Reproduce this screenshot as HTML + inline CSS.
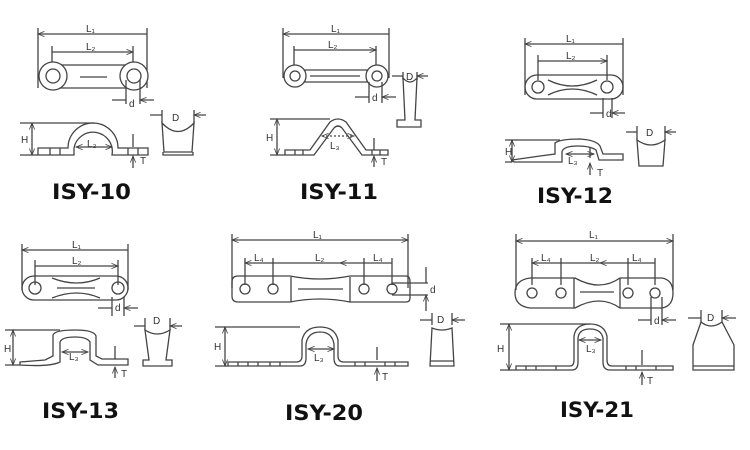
<!DOCTYPE html>
<html><head><meta charset="utf-8"><style>
html,body{margin:0;padding:0;background:#fff;}
svg{display:block}
text{font-family:"Liberation Sans",sans-serif;fill:#333}
.lb{font-family:"DejaVu Sans","Liberation Sans",sans-serif;font-weight:bold;font-size:21px;fill:#111}
.s{font-size:10px}
</style></head><body>
<svg width="750" height="450" viewBox="0 0 750 450" xmlns="http://www.w3.org/2000/svg">
<defs>
<marker id="a" viewBox="0 0 10 10" refX="10" refY="5" markerWidth="7" markerHeight="5" orient="auto-start-reverse"><path d="M0,1 L10,5 L0,9" fill="none" stroke="#444" stroke-width="1.3"/></marker>
</defs>
<g fill="none" stroke="#444" stroke-width="1.3">
<!-- ===== ISY-10 ===== -->
<path d="M38,28V88 M147,28V88 M52,46V70 M133,46V70"/>
<path d="M38,34H147 M52,52H133" marker-start="url(#a)" marker-end="url(#a)"/>
<path d="M53,65H134 M53,88H134 M80,77H107"/>
<circle cx="53" cy="76" r="14" fill="#fff"/><circle cx="53" cy="76" r="7"/>
<circle cx="134" cy="76" r="14" fill="#fff"/><circle cx="134" cy="76" r="7"/>
<path d="M126,80V104 M140,80V104"/>
<path d="M112,100H126 M154,100H140" marker-end="url(#a)"/>
<path d="M20,123H95 M20,155H38"/>
<path d="M32,123V155" marker-start="url(#a)" marker-end="url(#a)"/>
<path d="M38,148H68 A25,25 0 0 1 118,148 H148 V155 H112 A19,19 0 0 0 74,148 V155 H38Z"/>
<path d="M50,148V155 M60,148V155 M128,148V155 M138,148V155"/>
<path d="M76,147H112" marker-start="url(#a)" marker-end="url(#a)"/>
<path d="M133,134V147 M133,168V156" marker-end="url(#a)"/>
<path d="M162,110V123 M194,110V123"/>
<path d="M150,115H162 M206,115H194" marker-end="url(#a)"/>
<path d="M162,123 Q178,140 194,123 L192,152 H164Z M163,152V155H193V152"/>
<!-- ===== ISY-11 ===== -->
<path d="M283,28V78 M389,28V78 M294,46V70 M376,46V70"/>
<path d="M283,34H389 M294,50H376" marker-start="url(#a)" marker-end="url(#a)"/>
<path d="M300,70H372 M300,82H372 M310,76H360"/>
<circle cx="295" cy="76" r="11" fill="#fff"/><circle cx="295" cy="76" r="5"/>
<circle cx="377" cy="76" r="11" fill="#fff"/><circle cx="377" cy="76" r="5"/>
<path d="M369,82V103 M382,82V103"/>
<path d="M355,97H369 M396,97H382" marker-end="url(#a)"/>
<path d="M270,119H330 M270,155H285"/>
<path d="M277,119V155" marker-start="url(#a)" marker-end="url(#a)"/>
<path d="M285,150H310 L330,122 Q338,116 346,122 L366,150 H388 V155 H362 L342,128 Q338,124 334,128 L314,155 H285Z"/>
<path d="M295,150V155 M303,150V155 M372,150V155 M380,150V155"/>
<path d="M322,136H354" marker-start="url(#a)" marker-end="url(#a)" stroke-dasharray="2,2"/>
<path d="M374,138V150 M374,167V156" marker-end="url(#a)"/>
<path d="M403,78 Q410,86 417,78 L415,120 H421 V127 H397 V120 H405Z"/>
<path d="M403,72V80 M417,72V80"/>
<path d="M392,76H403 M428,76H417" marker-end="url(#a)"/>
<!-- ===== ISY-12 ===== -->
<path d="M525,38V95 M623,38V95 M538,55V80 M607,55V80"/>
<path d="M525,44H623 M538,61H607" marker-start="url(#a)" marker-end="url(#a)"/>
<rect x="525" y="75" width="98" height="24" rx="12"/>
<path d="M548,80 Q572,92 597,80 M548,95 Q572,83 597,95"/>
<circle cx="538" cy="87" r="6"/><circle cx="607" cy="87" r="6"/>
<path d="M603,98V118 M612,98V118"/>
<path d="M590,113H603 M625,113H612" marker-end="url(#a)"/>
<path d="M505,140H560 M505,162H512"/>
<path d="M512,140V162" marker-start="url(#a)" marker-end="url(#a)"/>
<path d="M512,160 L540,156 L555,154 V143 Q560,139 580,139 Q596,140 600,146 L603,154 H623 V160 H599 L596,150 Q590,146 578,146 Q563,146 562,152 V162 H514Z"/>
<path d="M566,154H594" marker-start="url(#a)" marker-end="url(#a)"/>
<path d="M590,147V158 M590,175V163" marker-end="url(#a)"/>
<path d="M637,126V140 M665,126V140"/>
<path d="M626,132H637 M676,132H665" marker-end="url(#a)"/>
<path d="M637,140 Q651,150 665,140 L663,166 H639Z"/>
<!-- ===== ISY-13 ===== -->
<path d="M22,244V290 M128,244V290 M35,260V285 M118,260V285"/>
<path d="M22,250H128 M35,266H118" marker-start="url(#a)" marker-end="url(#a)"/>
<rect x="22" y="276" width="106" height="24" rx="12"/>
<path d="M52,278 Q77,288 100,278 M52,298 Q77,288 100,298 M57,288H95"/>
<circle cx="35" cy="288" r="6"/><circle cx="118" cy="288" r="6"/>
<path d="M112,297V316 M124,297V316"/>
<path d="M98,308H112 M138,308H124" marker-end="url(#a)"/>
<path d="M5,330H60 M5,365H20"/>
<path d="M13,330V365" marker-start="url(#a)" marker-end="url(#a)"/>
<path d="M20,362 L45,360 L53,356 V335 Q55,330 75,330 Q94,330 96,336 V356 L102,359 H128 V365 H98 L90,360 V342 Q87,337 75,337 Q62,337 60,342 V362 Q50,367 20,365Z"/>
<path d="M62,352H88" marker-start="url(#a)" marker-end="url(#a)"/>
<path d="M115,346V359 M115,378V367" marker-end="url(#a)"/>
<path d="M145,318V330 M170,318V330"/>
<path d="M134,326H145 M182,326H170" marker-end="url(#a)"/>
<path d="M145,330 Q157,338 170,330 L166,360 H172 V366 H143 V360 H149Z"/>
<!-- ===== ISY-20 ===== -->
<path d="M232,234V288 M408,234V288 M245,258V285 M273,258V285 M364,258V285 M392,258V285"/>
<path d="M232,240H408" marker-start="url(#a)" marker-end="url(#a)"/>
<path d="M245,263H273 M364,263H392 M273,263H300 M364,263H340" marker-start="url(#a)" marker-end="url(#a)"/>
<path d="M300,263H340"/>
<path d="M238,276 H290 Q320,282 350,276 H406 Q410,276 410,282 V298 Q410,302 406,302 H350 Q320,296 290,302 H238 Q232,302 232,296 V282 Q232,276 238,276Z"/>
<path d="M291,277V302 M350,277V302 M298,289H343"/>
<circle cx="245" cy="289" r="5"/><circle cx="273" cy="289" r="5"/><circle cx="364" cy="289" r="5"/><circle cx="392" cy="289" r="5"/>
<path d="M392,283H428 M392,295H428"/>
<path d="M426,267V283 M426,311V295" marker-end="url(#a)"/>
<path d="M215,327H300 M215,366H228"/>
<path d="M225,327V366" marker-start="url(#a)" marker-end="url(#a)"/>
<path d="M228,362H296 Q302,362 302,356 V340 Q305,327 320,327 Q335,327 338,340 V356 Q338,362 344,362 H408 V366 H340 Q334,366 334,358 V344 Q332,332 320,332 Q308,332 306,344 V358 Q306,366 300,366 H228Z"/>
<path d="M238,362V366 M248,362V366 M258,362V366 M270,362V366 M280,362V366 M355,362V366 M365,362V366 M385,362V366 M395,362V366"/>
<path d="M308,349H334" marker-start="url(#a)" marker-end="url(#a)"/>
<path d="M377,347V360 M377,381V368" marker-end="url(#a)"/>
<path d="M432,313V325 M452,313V325"/>
<path d="M420,320H432 M465,320H452" marker-end="url(#a)"/>
<path d="M432,328 Q442,332 452,328 L454,366 H430Z M430,361H454"/>
<!-- ===== ISY-21 ===== -->
<path d="M516,234V290 M673,234V290 M532,258V285 M561,258V285 M628,258V285 M655,258V285"/>
<path d="M516,241H673" marker-start="url(#a)" marker-end="url(#a)"/>
<path d="M532,263H561 M628,263H655 M561,263H588 M628,263H600" marker-start="url(#a)" marker-end="url(#a)"/>
<path d="M588,263H600"/>
<path d="M530,278 H575 Q600,292 620,278 H662 Q673,280 673,293 Q673,306 662,308 H620 Q600,294 575,308 H530 Q515,306 515,293 Q515,280 530,278Z"/>
<path d="M574,278V308 M620,278V308 M580,292H614"/>
<circle cx="532" cy="293" r="5"/><circle cx="561" cy="293" r="5"/><circle cx="628" cy="293" r="5"/><circle cx="655" cy="293" r="5"/>
<path d="M651,297V325 M662,297V325"/>
<path d="M638,320H651 M676,320H662" marker-end="url(#a)"/>
<path d="M500,324H590 M500,370H516"/>
<path d="M509,324V370" marker-start="url(#a)" marker-end="url(#a)"/>
<path d="M516,366H570 Q574,366 574,360 V336 Q576,324 590,324 Q604,324 607,336 V360 Q607,366 612,366 H673 V370 H610 Q603,370 603,362 V338 Q601,329 590,329 Q579,329 578,338 V362 Q578,370 572,370 H516Z"/>
<path d="M526,366V370 M536,366V370 M556,366V370 M626,366V370 M636,366V370 M656,366V370"/>
<path d="M579,340H601" marker-start="url(#a)" marker-end="url(#a)"/>
<path d="M642,350V365 M642,385V372" marker-end="url(#a)"/>
<path d="M701,310V322 M722,310V322"/>
<path d="M688,318H701 M736,318H722" marker-end="url(#a)"/>
<path d="M701,322 Q711,330 722,322 L734,345 V370 H693 V345Z M693,366H734"/>
</g>
<g class="s">
<text x="86" y="32">L₁</text><text x="86" y="50">L₂</text><text x="129" y="107">d</text>
<text x="21" y="143">H</text><text x="87" y="147">L₃</text><text x="140" y="164">T</text><text x="172" y="121">D</text>
<text x="331" y="32">L₁</text><text x="328" y="48">L₂</text><text x="372" y="101">d</text>
<text x="266" y="141">H</text><text x="330" y="149">L₃</text><text x="381" y="165">T</text><text x="406" y="80">D</text>
<text x="566" y="42">L₁</text><text x="566" y="59">L₂</text><text x="606" y="117">d</text>
<text x="505" y="155">H</text><text x="568" y="164">L₃</text><text x="597" y="176">T</text><text x="646" y="136">D</text>
<text x="72" y="248">L₁</text><text x="72" y="264">L₂</text><text x="115" y="311">d</text>
<text x="4" y="352">H</text><text x="69" y="360">L₃</text><text x="121" y="377">T</text><text x="153" y="324">D</text>
<text x="313" y="238">L₁</text><text x="254" y="261">L₄</text><text x="315" y="261">L₂</text><text x="373" y="261">L₄</text>
<text x="430" y="293">d</text><text x="214" y="350">H</text><text x="314" y="361">L₃</text><text x="382" y="380">T</text><text x="437" y="323">D</text>
<text x="589" y="238">L₁</text><text x="541" y="261">L₄</text><text x="590" y="261">L₂</text><text x="632" y="261">L₄</text>
<text x="654" y="324">d</text><text x="497" y="352">H</text><text x="586" y="352">L₃</text><text x="647" y="384">T</text><text x="707" y="321">D</text>
</g>
<text class="lb" x="52" y="199" textLength="79" lengthAdjust="spacingAndGlyphs">ISY-10</text>
<text class="lb" x="300" y="199" textLength="78" lengthAdjust="spacingAndGlyphs">ISY-11</text>
<text class="lb" x="537" y="203" textLength="76" lengthAdjust="spacingAndGlyphs">ISY-12</text>
<text class="lb" x="42" y="418" textLength="77" lengthAdjust="spacingAndGlyphs">ISY-13</text>
<text class="lb" x="285" y="420" textLength="78" lengthAdjust="spacingAndGlyphs">ISY-20</text>
<text class="lb" x="560" y="417" textLength="74" lengthAdjust="spacingAndGlyphs">ISY-21</text>
</svg>
</body></html>
